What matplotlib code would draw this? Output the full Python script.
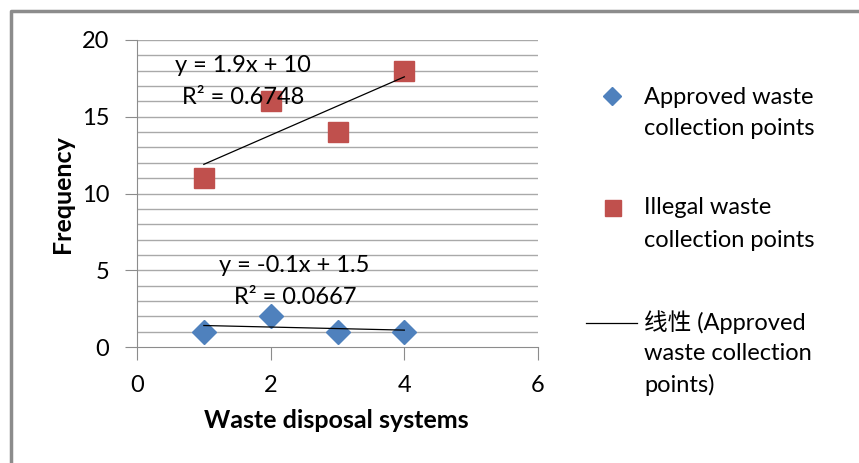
import numpy as np
import matplotlib.pyplot as plt
from matplotlib.lines import Line2D

plt.rcParams['font.family'] = ['Lato', 'Noto Sans CJK SC', 'DejaVu Sans']

# waste disposal system index and frequencies
x = [1, 2, 3, 4]
approved = [1, 2, 1, 1]
illegal = [11, 16, 14, 18]

blue = '#4F81BD'
red = '#C0504D'
grid_c = '#a9a9a9'
W, H = 859, 463

fig = plt.figure(figsize=(W / 100, H / 100), dpi=100)
ax = fig.add_axes([137 / W, 1 - 347 / H, 401 / W, 307 / H])


# linear trendlines
def fit(xs, ys):
    k, b = np.polyfit(xs, ys, 1)
    ys = np.array(ys)
    pred = np.polyval([k, b], xs)
    r2 = 1 - np.sum((ys - pred) ** 2) / np.sum((ys - ys.mean()) ** 2)
    return k, b, r2


ka, ba, ra = fit(x, approved)
ki, bi, ri = fit(x, illegal)
xl = np.array([1, 4])

ax.plot(x, approved, linestyle='none', marker='D', ms=12.5, color=blue, zorder=3)
ax.plot(x, illegal, linestyle='none', marker='s', ms=15, color=red, zorder=3)
ax.plot(xl, ka * xl + ba, color='black', lw=0.9, zorder=4)
ax.plot(xl, ki * xl + bi, color='black', lw=0.9, zorder=4)


def px_text(px, py, s, **kw):
    fig.text(px / W, 1 - py / H, s, **kw)


fs = 17
px_text(243, 65, f'y = {ki:.1f}x + {bi:.0f}', ha='center', va='center', fontsize=fs)
px_text(243, 97, f'R² = {ri:.4f}', ha='center', va='center', fontsize=fs)
px_text(294, 265, f'y = {ka:.1f}x + {ba:.1f}', ha='center', va='center', fontsize=fs)
px_text(295, 297, f'R² = {ra:.4f}', ha='center', va='center', fontsize=fs)

ax.set_xlim(0, 6)
ax.set_ylim(0, 20)
ax.set_xticks([0, 2, 4, 6])
ax.set_yticks([0, 5, 10, 15, 20])
for yv in range(1, 21):
    ax.axhline(yv, color=grid_c, lw=1.0, zorder=1)
for s in ['top', 'right']:
    ax.spines[s].set_visible(False)
for s in ['left', 'bottom']:
    ax.spines[s].set_color('#8c8c8c')
ax.tick_params(axis='both', colors='#8c8c8c', labelcolor='black', labelsize=fs, length=9)
ax.tick_params(axis='x', pad=11)
ax.tick_params(axis='y', pad=11)

px_text(336, 421, 'Waste disposal systems', ha='center', va='center',
        fontsize=18, fontweight='bold')
px_text(62, 194, 'Frequency', ha='center', va='center',
        rotation=90, fontsize=18, fontweight='bold')

# legend drawn by hand in figure pixels
fig.add_artist(Line2D([612 / W], [1 - 96 / H], marker='D', ms=9.5, color=blue,
                      transform=fig.transFigure))
fig.add_artist(Line2D([613 / W], [1 - 208 / H], marker='s', ms=12, color=red,
                      transform=fig.transFigure))
fig.add_artist(Line2D([586 / W, 637 / W], [1 - 323 / H] * 2, color='black', lw=0.9,
                      transform=fig.transFigure))
legend_lines = [('Approved waste', 97), ('collection points', 128),
                ('Illegal waste', 208), ('collection points', 240),
                ('线性 (Approved', 322), ('waste collection', 354), ('points)', 385)]
for txt, yp in legend_lines:
    px_text(644, yp, txt, ha='left', va='center', fontsize=fs)

# chart area border
fig.add_artist(Line2D([10.5 / W, 10.5 / W, 1], [0, 1 - 11 / H, 1 - 11 / H],
                      color='#8c8c8c', lw=2.5, transform=fig.transFigure))

fig.savefig('out.png', dpi=100)
